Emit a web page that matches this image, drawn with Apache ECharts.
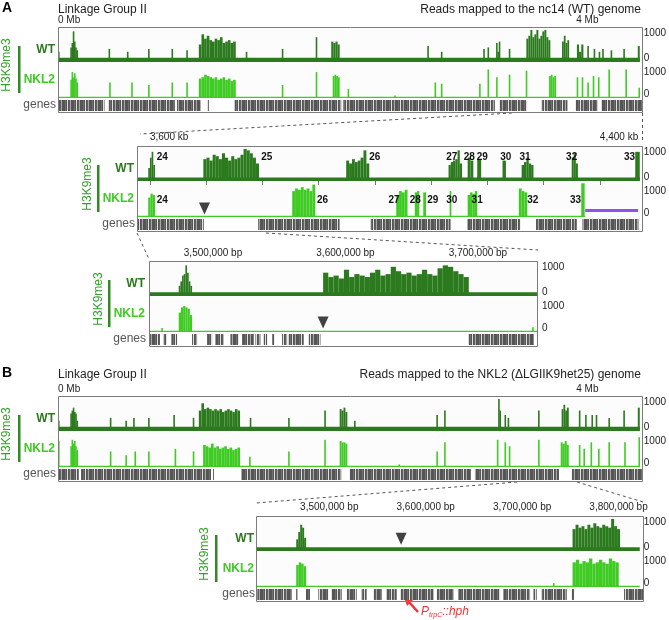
<!DOCTYPE html>
<html>
<head>
<meta charset="utf-8">
<title>H3K9me3 LGII</title>
<script src="https://cdn.jsdelivr.net/npm/echarts@6/dist/echarts.min.js"></script>
<style>
* { margin: 0; padding: 0; }
body { background: #fff; }
</style>
</head>
<body>
<div id="main" style="width: 669px; height: 620px;"></div>
<script>
var FONT = 'Liberation Sans, Arial, sans-serif';
var WT_COLOR = '#2b7a1d', NKL2_COLOR = '#3fcb23', TAG_GREEN = '#34a12a';

// ---------- data ----------
// signal tracks: [start, end, [heights across the stretch]]
// genes: [start, end]

// A, whole LGII, Mb
var aTopTicks = [0, 4];
var aTopWT = [
  [0, 4.49, [150]],
  [0.0, 0.012, [350]], [0.095, 0.152, [500, 650, 1050, 700, 500, 400]],
  [0.39, 0.40, [450]], [0.532, 0.542, [350]], [0.695, 0.705, [450]],
  [0.876, 0.886, [450]], [0.99, 1.0, [400]],
  [1.087, 1.372, [600, 950, 800, 900, 750, 700, 800, 750, 850, 650, 700, 750, 650, 700]],
  [1.449, 1.459, [350]], [1.727, 1.737, [450]], [1.989, 1.999, [850]],
  [2.109, 2.174, [700, 650, 700, 600]],
  [2.85, 2.86, [550]], [2.955, 2.965, [350]],
  [3.282, 3.292, [450]], [3.315, 3.325, [500]], [3.381, 3.412, [650, 350, 700]],
  [3.479, 3.489, [450]],
  [3.615, 3.80, [800, 900, 1100, 850, 950, 1100, 800, 900, 1050, 1100, 850, 750]],
  [3.89, 3.945, [700, 900, 650, 750]], [4.005, 4.055, [600, 350, 600]],
  [4.085, 4.095, [550]], [4.134, 4.144, [450]], [4.173, 4.183, [350]], [4.2, 4.21, [450]],
  [4.265, 4.275, [400]], [4.363, 4.373, [450]], [4.475, 4.49, [550]]
];
var aTopNKL2 = [
  [0, 4.49, [50]],
  [0.095, 0.152, [700, 1000, 800, 950, 750, 600]],
  [0.395, 0.405, [600]], [0.565, 0.575, [600]], [0.695, 0.705, [500]],
  [0.876, 0.886, [600]], [0.99, 1.0, [600]],
  [1.087, 1.372, [750, 800, 900, 850, 800, 750, 800, 700, 750, 800, 700, 750, 650, 700]],
  [1.727, 1.737, [500]], [1.989, 1.999, [1000]],
  [2.12, 2.174, [850, 900, 850, 800]], [2.235, 2.245, [350]],
  [2.595, 2.605, [100]],
  [2.906, 2.916, [600]], [2.955, 2.965, [550]],
  [3.25, 3.26, [550]], [3.315, 3.325, [1100]], [3.381, 3.391, [800]], [3.479, 3.489, [900]],
  [3.61, 3.62, [1050]], [3.79, 3.844, [850, 900, 800, 850]],
  [4.003, 4.013, [800]], [4.042, 4.052, [800]], [4.085, 4.095, [600]],
  [4.127, 4.137, [850]], [4.167, 4.177, [800]],
  [4.248, 4.258, [1100]], [4.379, 4.389, [1100]], [4.48, 4.49, [400]]
];
var aTopGenes = [
  [0.003, 0.357], [0.39, 0.897], [0.913, 1.094], [1.15, 1.157], [1.356, 2.174],
  [2.19, 3.353], [3.386, 3.6], [3.713, 3.91], [3.975, 4.139], [4.172, 4.483]
];

// A, zoom 1, kb
var aMidTicks = [3600, 4400];
var aMidMinorTicks = [3600, 3700, 3800, 3900, 4000, 4100, 4200, 4300, 4400];
var aMidWT = [
  [3577, 4471, [120]],
  [3597, 3609, [450, 800, 1000, 550]],
  [3695, 3794, [750, 800, 700, 900, 850, 750, 950, 800, 700, 850, 750, 800, 900, 1100, 1050, 950, 800, 600]],
  [3949, 3990, [700, 600, 750, 650, 700, 800, 1050, 600]],
  [4131, 4155, [550, 650, 700, 750, 1050, 600]],
  [4165, 4175, [800, 700]], [4182, 4189, [750]], [4227, 4233, [700]],
  [4261, 4282, [550, 650, 800, 600, 550]],
  [4350, 4361, [800, 950, 600]], [4463, 4471, [1000]]
];
var aMidNKL2 = [
  [3577, 4374, [50]],
  [3597, 3609, [750, 900, 850]],
  [3853, 3894, [1000, 1100, 1050, 1150, 1050, 1100, 1000, 1250]],
  [4038, 4058, [850, 1000, 950, 1050]],
  [4071, 4079, [950, 1000]], [4086, 4091, [950]], [4133, 4136, [1000]],
  [4165, 4182, [850, 950, 900, 1000]],
  [4256, 4271, [1100, 1000, 950]], [4367, 4373, [1300]]
];
var aMidDeletion = [4374, 4468];
var aMidGenes = [
  [3578, 3695], [3791, 3935], [3990, 4131], [4161, 4254], [4282, 4354], [4364, 4463]
];
var aMidWTTags = [
  [3612, '24'], [3798, '25'], [3990, '26'], [4127, '27'], [4158, '28'],
  [4181, '29'], [4223, '30'], [4257, '31'], [4340, '32'], [4443, '33']
];
var aMidNKL2Tags = [
  [3612, '24'], [3897, '26'], [4024, '27'], [4062, '28'], [4093, '29'],
  [4127, '30'], [4172, '31'], [4271, '32'], [4347, '33']
];
var aMidArrow = [3697];

// A, zoom 2, bp
var aBotTicks = [3500000, 3600000, 3700000];
var aBotWT = [
  [3451700, 3745300, [130]],
  [3474130, 3484200, [350, 500, 700, 750, 1050, 800, 500, 350]],
  [3583110, 3693060, [800, 650, 700, 600, 900, 650, 750, 700, 650, 800, 900, 700, 750, 1000,
    850, 750, 800, 700, 750, 900, 750, 700, 950, 1050, 1000, 850, 750, 650]]
];
var aBotNKL2 = [
  [3451700, 3745300, [50]],
  [3461000, 3462000, [150]],
  [3474130, 3484200, [750, 950, 1000, 950, 900, 650]],
  [3740860, 3742120, [180]]
];
var aBotGenes = [
  [3452455, 3460000], [3462800, 3465300], [3468600, 3472900], [3484200, 3488000],
  [3495550, 3499330], [3501840, 3508130], [3513160, 3519450], [3521970, 3530780],
  [3532030, 3535800], [3538320, 3540840], [3544610, 3546380], [3552160, 3555940],
  [3557200, 3568520], [3572290, 3581100], [3693060, 3742120]
];
var aBotArrow = [3583110];

// B, whole LGII of NKL2, Mb
var bTopTicks = [0, 4];
var bTopWT = [
  [0, 4.49, [150]],
  [0.0, 0.012, [350]], [0.095, 0.152, [600, 700, 800, 650, 600, 350]],
  [0.40, 0.41, [450]], [0.52, 0.53, [350]], [0.58, 0.59, [450]], [0.695, 0.705, [450]],
  [0.89, 0.90, [550]], [1.04, 1.05, [450]],
  [1.087, 1.405, [700, 950, 750, 800, 750, 700, 750, 700, 750, 650, 700, 750, 700, 650, 750, 700]],
  [1.48, 1.49, [450]], [1.776, 1.786, [450]], [2.055, 2.065, [700]],
  [2.174, 2.233, [750, 700, 800, 650]], [2.285, 2.295, [350]],
  [2.92, 2.93, [550]], [2.98, 2.99, [700]],
  [3.397, 3.417, [1100, 700]], [3.446, 3.456, [550]], [3.47, 3.48, [450]],
  [3.705, 3.715, [700]], [3.887, 3.942, [750, 900, 700, 800]],
  [4.02, 4.03, [700]], [4.068, 4.078, [550]], [4.117, 4.127, [550]], [4.15, 4.16, [550]],
  [4.248, 4.258, [450]], [4.363, 4.373, [700]], [4.475, 4.49, [800]]
];
var bTopNKL2 = [
  [0, 4.49, [50]],
  [0.0, 0.012, [1000]], [0.095, 0.152, [800, 1050, 900, 1000, 800, 650]],
  [0.40, 0.41, [600]], [0.52, 0.53, [450]], [0.59, 0.60, [600]], [0.695, 0.705, [600]],
  [0.90, 0.91, [700]], [1.04, 1.05, [600]],
  [1.12, 1.405, [850, 800, 750, 900, 750, 800, 700, 750, 800, 700, 750, 650, 700, 750]],
  [1.475, 1.485, [400]], [1.776, 1.786, [600]], [2.055, 2.065, [1050]],
  [2.174, 2.233, [1000, 950, 950, 900]], [2.628, 2.638, [100]],
  [2.92, 2.93, [600]], [2.98, 2.99, [950]],
  [3.387, 3.397, [1050]], [3.446, 3.456, [950]], [3.479, 3.489, [800]],
  [3.705, 3.715, [1050]], [3.88, 3.942, [950, 900, 1000, 850]],
  [4.02, 4.03, [850]], [4.055, 4.065, [700]], [4.11, 4.12, [950]], [4.168, 4.178, [700]],
  [4.248, 4.258, [950]], [4.37, 4.38, [950]], [4.48, 4.49, [1150]]
];
var bTopGenes = [
  [0.003, 0.16], [0.177, 1.175], [1.19, 1.195], [1.405, 2.174],
  [2.24, 3.17], [3.2, 3.845], [3.942, 4.483]
];

// B, zoom, bp
var bBotTicks = [3500000, 3600000, 3700000, 3800000];
var bBotWT = [
  [3424000, 3822000, [130]],
  [3465730, 3475990, [400, 650, 900, 800, 450]],
  [3752320, 3801570, [750, 900, 800, 850, 750, 900, 800, 950, 850, 800, 900, 850, 800, 1100, 850, 750]]
];
var bBotNKL2 = [
  [3424000, 3822000, [50]],
  [3465730, 3475990, [850, 950, 900, 800]],
  [3732000, 3733500, [150]],
  [3752320, 3800200, [950, 1050, 900, 1000, 950, 1100, 900, 950, 1050, 950, 900, 1100, 1000, 950]]
];
var bBotGenes = [
  [3425370, 3460600], [3465200, 3466500], [3475310, 3479410], [3487960, 3498220],
  [3501640, 3511900], [3517030, 3527290], [3532420, 3537550], [3544390, 3552940],
  [3558070, 3568330], [3571750, 3605950], [3609370, 3626470], [3631600, 3674350],
  [3677770, 3705130], [3708550, 3711970], [3717100, 3742750], [3747880, 3750270],
  [3801570, 3821410]
];
var bBotArrow = [3574490];

// ---------- chart ----------
var myChart = echarts.init(document.getElementById('main'));

var grids = [], xAxes = [], yAxes = [], series = [], graphics = [];

// barcode look for the gene rows
var pat = document.createElement('canvas');
pat.width = 9; pat.height = 4;
var pctx = pat.getContext('2d');
['#555', '#555', '#707070', '#555', '#e0e0e0', '#555', '#606060', '#a8a8a8', '#555']
  .forEach(function (c, i) { pctx.fillStyle = c; pctx.fillRect(i, 0, 1, 4); });
var geneFill = { type: 'pattern', image: pat, repeat: 'repeat' };

function flatten(peaks) {
  var out = [];
  peaks.forEach(function (p) {
    var n = p[2].length, w = (p[1] - p[0]) / n;
    for (var j = 0; j < n; j++) out.push([p[0] + j * w, p[0] + (j + 1) * w, p[2][j]]);
  });
  return out;
}

function renderBar(params, api) {
  var a = api.coord([api.value(0), api.value(2)]);
  var b = api.coord([api.value(1), 0]);
  var bottom = params.coordSys.y + params.coordSys.height;
  return {
    type: 'rect',
    shape: { x: a[0], y: a[1], width: Math.max(b[0] - a[0], 1.6), height: bottom - a[1] },
    style: { fill: api.visual('color') }
  };
}

function renderGene(params, api) {
  var a = api.coord([api.value(0), 0.92]);
  var b = api.coord([api.value(1), 0.08]);
  return {
    type: 'rect',
    shape: { x: a[0], y: a[1], width: Math.max(b[0] - a[0], 1), height: b[1] - a[1] },
    style: { fill: geneFill }
  };
}

function yLabel(v) { return v === 0 ? '{z|0}' : '1000'; }

function addPanel(box, xr, wt, nkl2, genes, ax) {
  var rows = [[0, 35, 1200], [36, 35, 1350], [72, 13, 1]];
  var idx = rows.map(function (r, k) {
    var i = grids.length;
    grids.push({ left: box.x, top: box.y + r[0], width: box.w, height: r[1],
      show: k < 2, backgroundColor: '#fcfcfc', borderWidth: 0 });
    var xa = { type: 'value', gridIndex: i, min: xr[0], max: xr[1], show: false };
    if (k === 0) {
      xa = {
        type: 'value', gridIndex: i, min: xr[0], max: xr[1], position: 'top',
        axisLine: { show: false }, splitLine: { show: false },
        axisTick: { show: !!ax.minor, customValues: ax.minor, length: 4, inside: true,
          lineStyle: { color: '#777' } },
        axisLabel: { customValues: ax.ticks, formatter: ax.fmt, align: ax.align,
          margin: ax.margin, fontSize: 10, color: '#222', fontFamily: FONT }
      };
    }
    xAxes.push(xa);
    var ya = { type: 'value', gridIndex: i, min: 0, max: r[2], show: false };
    if (k < 2) {
      ya = {
        type: 'value', gridIndex: i, min: 0, max: r[2], position: 'right',
        axisLine: { show: false }, axisTick: { show: false }, splitLine: { show: false },
        axisLabel: { customValues: [0, 1000], formatter: yLabel, margin: 4,
          fontSize: 10, color: '#222', fontFamily: FONT,
          rich: { z: { fontSize: 10, color: '#222', fontFamily: FONT, padding: [0, 0, 8, 0] } } }
      };
    }
    yAxes.push(ya);
    return i;
  });
  [[wt, WT_COLOR], [nkl2, NKL2_COLOR]].forEach(function (t, k) {
    series.push({ type: 'custom', xAxisIndex: idx[k], yAxisIndex: idx[k], silent: true,
      data: flatten(t[0]), encode: { x: [0, 1], y: 2 }, itemStyle: { color: t[1] },
      renderItem: renderBar, clip: true });
  });
  series.push({ type: 'custom', xAxisIndex: idx[2], yAxisIndex: idx[2], silent: true,
    data: genes, encode: { x: [0, 1] }, renderItem: renderGene, clip: true });
  // frame round the panel
  graphics.push({ type: 'rect', z: 100, silent: true,
    shape: { x: box.x + 0.5, y: box.y + 0.5, width: box.w - 1, height: 85 },
    style: { fill: 'none', stroke: '#7c7c7c', lineWidth: 1 } });
  return idx;
}

function sideLabels(box, tagX, barX, labelX) {
  var y = box.y;
  graphics.push(
    { type: 'text', x: labelX, y: y + 23, style: { text: 'WT', font: 'bold 12px ' + FONT,
      fill: WT_COLOR, align: 'right', verticalAlign: 'middle' } },
    { type: 'text', x: labelX, y: y + 53, style: { text: 'NKL2', font: 'bold 12px ' + FONT,
      fill: NKL2_COLOR, align: 'right', verticalAlign: 'middle' } },
    { type: 'text', x: labelX + 1, y: y + 78, style: { text: 'genes', font: '12px ' + FONT,
      fill: '#555', align: 'right', verticalAlign: 'middle' } },
    { type: 'text', x: tagX, y: y + 38, rotation: Math.PI / 2,
      style: { text: 'H3K9me3', font: '12px ' + FONT, fill: TAG_GREEN,
        align: 'center', verticalAlign: 'middle' } },
    { type: 'rect', shape: { x: barX - 1, y: y + 19, width: 2.5, height: 47 },
      style: { fill: '#2f8a22' } }
  );
}

function tagSeries(axisIdx, tags, level) {
  series.push({ type: 'custom', xAxisIndex: axisIdx, yAxisIndex: axisIdx, silent: true,
    data: tags.map(function (t) { return [t[0], level]; }), encode: { x: 0, y: 1 },
    clip: false, z: 5,
    renderItem: function (params, api) {
      var p = api.coord([api.value(0), api.value(1)]);
      return { type: 'text', x: p[0], y: p[1],
        style: { text: tags[params.dataIndex][1], font: 'bold 10px ' + FONT, fill: '#111',
          align: 'left', verticalAlign: 'middle' } };
    } });
}

function arrowSeries(axisIdx, pos, level) {
  series.push({ type: 'scatter', xAxisIndex: axisIdx, yAxisIndex: axisIdx, silent: true,
    symbol: 'triangle', symbolRotate: 180, symbolSize: [11, 12], z: 6,
    itemStyle: { color: '#111' },
    data: pos.map(function (p) { return [p, level]; }) });
}

var mb = function (v) { return v + ' Mb'; };
var kb = function (v) { return v.toLocaleString('en-US') + ' kb'; };
var bp = function (v) { return v.toLocaleString('en-US') + ' bp'; };

var boxATop = { x: 58, y: 27, w: 585 };
var boxAMid = { x: 137, y: 146, w: 506 };
var boxABot = { x: 149, y: 261, w: 389 };
var boxBTop = { x: 58, y: 396, w: 585 };
var boxBBot = { x: 256, y: 516, w: 388 };

addPanel(boxATop, [0, 4.49], aTopWT, aTopNKL2, aTopGenes,
  { ticks: aTopTicks, fmt: mb, align: 'left', margin: 2 });
var mid = addPanel(boxAMid, [3577, 4471], aMidWT, aMidNKL2, aMidGenes,
  { ticks: aMidTicks, fmt: kb, align: 'left', margin: 4, minor: aMidMinorTicks });
var bot = addPanel(boxABot, [3451700, 3745300], aBotWT, aBotNKL2, aBotGenes,
  { ticks: aBotTicks, fmt: bp, align: 'center', margin: 3 });
addPanel(boxBTop, [0, 4.49], bTopWT, bTopNKL2, bTopGenes,
  { ticks: bTopTicks, fmt: mb, align: 'left', margin: 2 });
var bbot = addPanel(boxBBot, [3424000, 3822000], bBotWT, bBotNKL2, bBotGenes,
  { ticks: bBotTicks, fmt: bp, align: 'center', margin: 4 });

tagSeries(mid[0], aMidWTTags, 800);
tagSeries(mid[1], aMidNKL2Tags, 650);
series.push({ type: 'line', xAxisIndex: mid[1], yAxisIndex: mid[1], silent: true,
  symbol: 'none', lineStyle: { color: '#8d52ee', width: 3 }, z: 6,
  data: [[aMidDeletion[0], 250], [aMidDeletion[1], 250]] });
arrowSeries(mid[1], aMidArrow, 330);
arrowSeries(bot[1], aBotArrow, 370);
arrowSeries(bbot[0], bBotArrow, 420);

sideLabels(boxATop, 7, 19, 55);
sideLabels(boxAMid, 88, 98, 134);
sideLabels(boxABot, 99, 109, 145);
sideLabels(boxBTop, 7, 19, 55);
sideLabels(boxBBot, 205, 216, 254);

function txt(x, y, s, font, align, color) {
  graphics.push({ type: 'text', x: x, y: y, style: { text: s, font: font, fill: color || '#222',
    align: align || 'left', verticalAlign: 'middle' } });
}
txt(2, 8, 'A', 'bold 14px ' + FONT, 'left', '#000');
txt(58, 10, 'Linkage Group II', '12px ' + FONT);
txt(641, 10, 'Reads mapped to the nc14 (WT) genome', '12px ' + FONT, 'right');
txt(2, 373, 'B', 'bold 14px ' + FONT, 'left', '#000');
txt(58, 375, 'Linkage Group II', '12px ' + FONT);
txt(641, 375, 'Reads mapped to the NKL2 (\u0394LGIIK9het25) genome', '12px ' + FONT, 'right');

function dashed(x1, y1, x2, y2) {
  graphics.push({ type: 'line', silent: true, shape: { x1: x1, y1: y1, x2: x2, y2: y2 },
    style: { stroke: '#555', lineWidth: 1, lineDash: [3, 3] } });
}
dashed(512, 113, 140, 134);
dashed(642.5, 113, 642.5, 140);
dashed(137, 233, 149, 259);
dashed(266, 233, 538, 250);
dashed(517, 482, 256, 503);
dashed(577, 482, 643, 502);

// P_trpC::hph marker
graphics.push(
  { type: 'line', shape: { x1: 418, y1: 612, x2: 409, y2: 602 },
    style: { stroke: '#f03232', lineWidth: 2.5 } },
  { type: 'polygon', shape: { points: [[404, 597], [413, 600], [407, 606]] },
    style: { fill: '#f03232' } },
  { type: 'text', x: 421, y: 612,
    style: { text: '{p|P}{s|trpC}{h|::hph}', verticalAlign: 'middle',
      rich: {
        p: { font: 'italic 12px ' + FONT, fill: '#f03232' },
        s: { font: 'italic 7px ' + FONT, fill: '#f03232', padding: [6, 0, 0, 0] },
        h: { font: 'italic 12px ' + FONT, fill: '#f03232' }
      } } }
);

var option = {
  animation: false,
  textStyle: { fontFamily: FONT },
  grid: grids,
  xAxis: xAxes,
  yAxis: yAxes,
  series: series,
  graphic: { elements: graphics }
};
myChart.setOption(option);

window.addEventListener('resize', function () {
  myChart.resize();
});
</script>
</body>
</html>
